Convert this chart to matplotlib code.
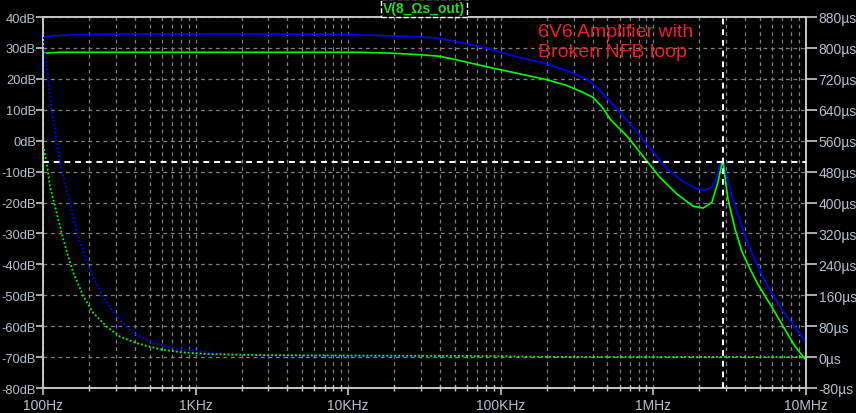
import matplotlib
matplotlib.use('Agg')
import matplotlib.pyplot as plt
from matplotlib.ticker import FixedLocator, NullFormatter, LogLocator

plt.rcParams['font.family'] = ['Liberation Sans', 'DejaVu Sans']

# ---------------- data ----------------
trace_label = 'V(8_Ωs_out)'
note_text = '6V6 Amplifier with\nBroken NFB loop'

x_ticks = [1e2, 1e3, 1e4, 1e5, 1e6, 1e7]
x_labels = ['100Hz', '1KHz', '10KHz', '100KHz', '1MHz', '10MHz']
db_ticks = [40, 30, 20, 10, 0, -10, -20, -30, -40, -50, -60, -70, -80]
us_ticks = [880, 800, 720, 640, 560, 480, 400, 320, 240, 160, 80, 0, -80]

# magnitude, run 1 (blue)
blue_mag_f = [100, 116, 159, 361, 2000, 7900, 14000, 28600, 38000, 54000, 81000,
              128000, 201000, 272000, 367000, 427000, 520000, 661000, 1.0e6, 1.23e6,
              1.56e6, 1.93e6, 2.18e6, 2.42e6, 2.61e6, 2.73e6, 2.86e6, 3.03e6, 3.32e6,
              3.87e6, 4.43e6, 5.15e6, 5.99e6, 7.07e6, 8.47e6, 1.0e7]
blue_mag_db = [33.4, 33.9, 34.3, 34.5, 34.5, 34.4, 34.1, 33.6, 33.2, 31.8, 29.9,
               27.1, 24.8, 22.6, 19.9, 17.3, 12.7, 7.0, -3.7, -9.2,
               -13.1, -15.6, -16.0, -15.0, -11.8, -7.6, -6.3, -11.5, -19.0,
               -29.0, -36.5, -43.5, -49.5, -55.2, -60.3, -65.2]

# magnitude, run 2 (green)
green_mag_f = [100, 129, 11600, 19400, 29500, 39800, 54000, 81000, 128000, 201000,
               272000, 346000, 402000, 460000, 520000, 671000, 855000, 1.1e6, 1.43e6,
               1.82e6, 2.12e6, 2.42e6, 2.65e6, 2.81e6, 2.86e6, 2.94e6, 3.08e6, 3.43e6,
               3.81e6, 4.35e6, 4.85e6, 5.99e6, 7.07e6, 8.47e6, 1.0e7]
green_mag_db = [28.3, 28.6, 28.6, 28.3, 27.8, 27.3, 25.9, 23.9, 21.8, 19.7,
                17.8, 15.6, 14.0, 11.0, 7.0, 1.5, -5.0, -11.8, -17.3,
                -21.2, -21.8, -19.9, -13.4, -7.6, -6.6, -11.5, -18.9, -28.6,
                -36.0, -42.0, -46.5, -53.9, -60.0, -66.5, -71.0]

# group delay, run 1 (blue, dotted)
blue_gd_f = [100, 105.7, 111, 116.8, 129, 150, 175, 203, 247, 305, 389, 526, 755,
             1069, 1300, 1607, 3000, 10000, 60000]
blue_gd_us = [828, 754, 676, 615, 504, 400, 296, 226, 156, 104, 63, 37, 21,
              16, 10, 6, 4, 3, 2]

# group delay, run 2 (green, dotted)
green_gd_f = [101.5, 105.7, 111, 120, 126, 136, 146.5, 158, 184, 214, 261, 320, 411,
              585, 826, 1242, 2523, 10000, 60000, 210000, 1.0e6, 1.0e7]
green_gd_us = [538, 503, 442, 390, 356, 304, 260, 218, 157, 114, 79, 53, 36,
               20, 12, 7.7, 5.2, 4, 3, 0.5, 0.3, 0.2]

cursor_f = 2.86e6
cursor_db = -7.0

# ---------------- style ----------------
BLUE = '#0000ff'
GREEN = '#00ff00'
AXC = '#c8c8c8'
LBL = '#b4c0cc'
GRID = '#808080'

fig = plt.figure(figsize=(8.56, 4.14), dpi=100, facecolor='black')
ax = fig.add_axes([43 / 856, 25 / 414, 763 / 856, 371 / 414])
ax.set_facecolor('black')
ax.set_xscale('log')
ax.set_xlim(1e2, 1e7)
ax.set_ylim(-80, 40)

ax2 = ax.twinx()
ax2.set_ylim(-80, 880)
ax2.set_xscale('log')
ax2.set_xlim(1e2, 1e7)

# ticks
ax.xaxis.set_major_locator(FixedLocator(x_ticks))
ax.set_xticklabels(x_labels)
ax.xaxis.set_minor_locator(LogLocator(base=10, subs=range(2, 10), numticks=20))
ax.xaxis.set_minor_formatter(NullFormatter())
ax.yaxis.set_major_locator(FixedLocator(db_ticks))
ax.set_yticklabels([f'{v}dB' for v in db_ticks])
ax2.yaxis.set_major_locator(FixedLocator(us_ticks))
ax2.set_yticklabels([f'{v}µs' for v in us_ticks])

for a in (ax, ax2):
    for s in a.spines.values():
        s.set_color(AXC)
        s.set_linewidth(1.2)

ax.tick_params(axis='y', which='major', direction='out', length=5, width=1.2,
               color=AXC, labelcolor=LBL, labelsize=9.3, pad=0)
ax.tick_params(axis='x', which='major', direction='out', length=5, width=1.2,
               color=AXC, labelcolor=LBL, labelsize=10, pad=2)
ax.tick_params(axis='x', which='minor', direction='inout', length=5, width=1.0,
               color=AXC)
ax2.tick_params(axis='y', which='major', direction='out', length=8, width=1.2,
                color=AXC, labelcolor=LBL, labelsize=10, pad=1)

ax.grid(True, which='major', axis='both', color=GRID, linestyle=(0, (3, 3)), lw=0.9)
ax.grid(True, which='minor', axis='x', color=GRID, linestyle=(0, (3, 3)), lw=0.9)
ax.set_axisbelow(True)

# curves
ax.plot(blue_mag_f, blue_mag_db, color=BLUE, lw=1.2, zorder=3)
ax.plot(green_mag_f, green_mag_db, color=GREEN, lw=1.2, zorder=4)
ax2.plot(blue_gd_f, blue_gd_us, color=BLUE, lw=1.3, linestyle=(0, (1, 1.2)), zorder=3)
ax2.plot(green_gd_f, green_gd_us, color=GREEN, lw=1.3, linestyle=(0, (1, 1.2)), zorder=4)

# cursors
ax2.axvline(cursor_f, color='white', lw=1.4, linestyle=(0, (3, 2.5)), zorder=5)
ax2.axhline((cursor_db + 70) * 8, color='white', lw=1.4, linestyle=(0, (3, 2.5)), zorder=5)

# labels
fig.text(424 / 856, 1 - 9 / 414, trace_label, color='#22dd22', fontsize=10,
         fontweight='bold', ha='center', va='center',
         bbox=dict(facecolor='black', edgecolor='white', linestyle='--', lw=1.0,
                   boxstyle='square,pad=0.12'))
fig.text(538 / 856, 1 - 24 / 414, note_text, color='#e8222a', fontsize=14,
         ha='left', va='top', linespacing=1.2, zorder=10)

fig.savefig('out.png', dpi=100, facecolor='black')
